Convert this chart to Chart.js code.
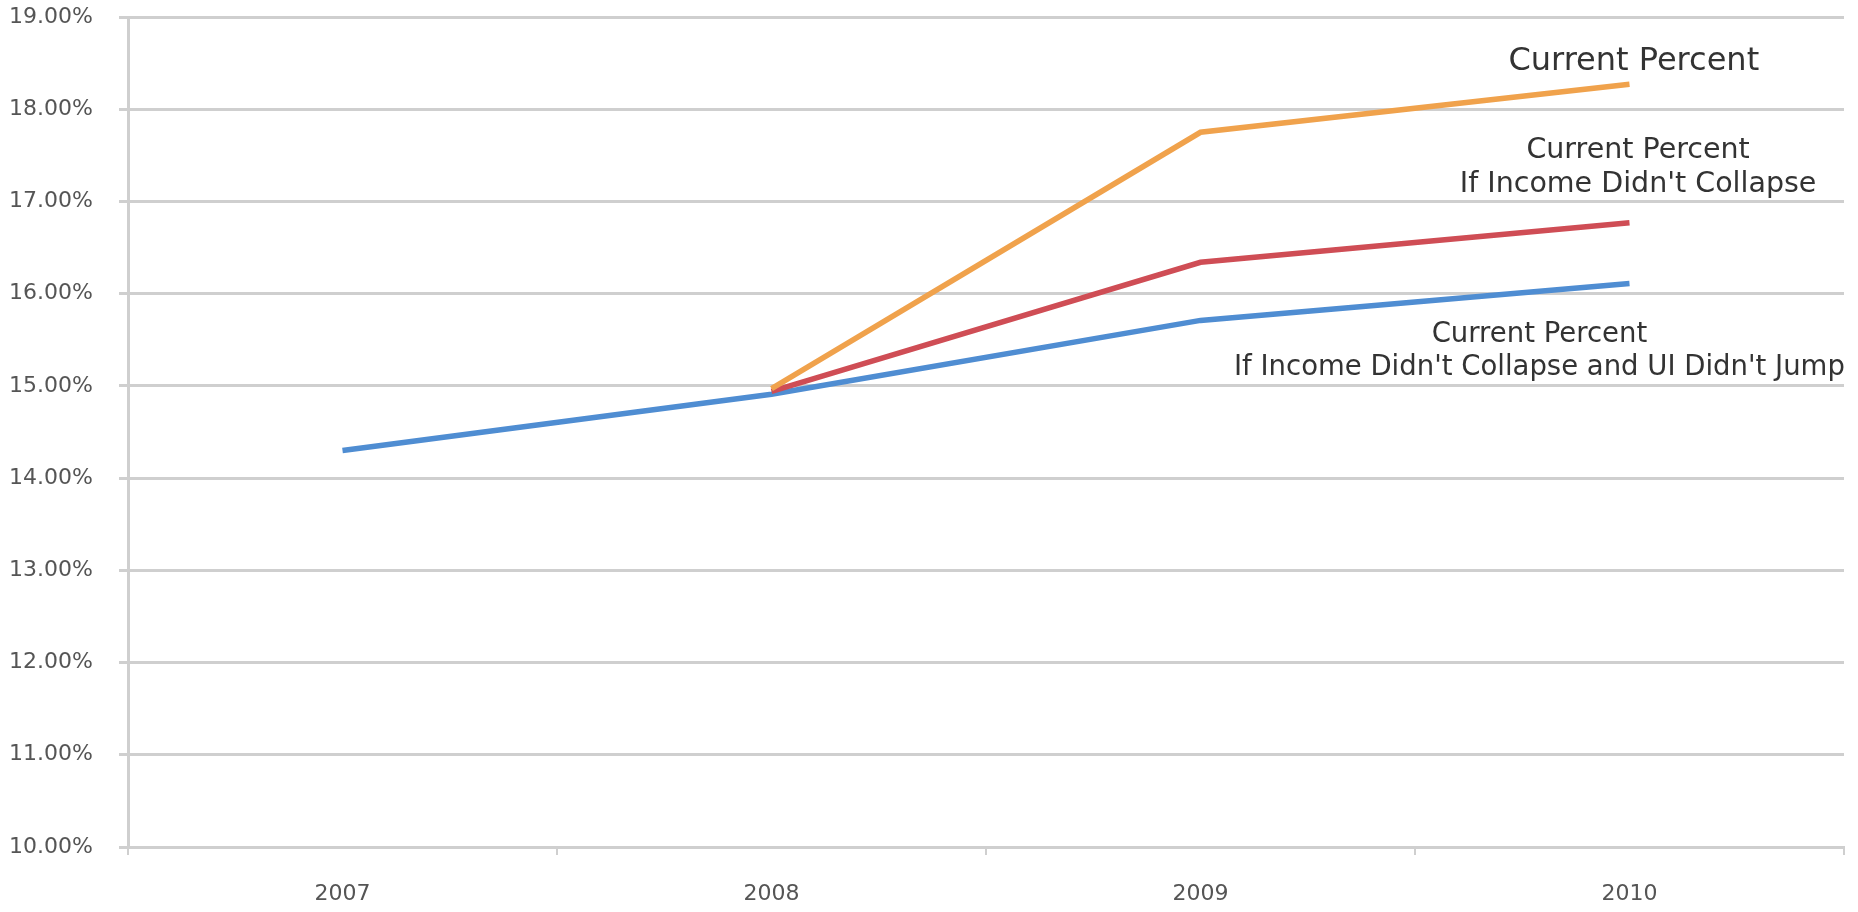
<!DOCTYPE html>
<html>
<head>
<meta charset="utf-8">
<script src="https://cdn.jsdelivr.net/npm/chart.js@4.4.1/dist/chart.umd.min.js"></script>
<style>
  html, body { margin: 0; padding: 0; background: #ffffff; }
  #wrap { width: 1858px; height: 912px; position: relative; }
</style>
</head>
<body>
<div id="wrap"><canvas id="chart" width="1858" height="912"></canvas></div>
<script>
// Share of income, by year, under three scenarios
const years = ['2007', '2008', '2009', '2010'];
const currentPercent = [null, 14.97, 17.75, 18.27];
const noIncomeCollapse = [null, 14.94, 16.34, 16.77];
const noCollapseNoUIJump = [14.30, 14.91, 15.71, 16.11];

const yTickMin = 10;
const yTickMax = 19;
const yTickStep = 1;

const seriesNames = [
  'Current Percent',
  'Current Percent If Income Didn\'t Collapse',
  'Current Percent If Income Didn\'t Collapse and UI Didn\'t Jump'
];

// Text placed beside the line ends
const annotations = [
  { lines: ['Current Percent'], x: 3.01, y: 18.52, size: 32 },
  { lines: ['Current Percent', 'If Income Didn\'t Collapse'], x: 3.02, y: 17.37, size: 28.5 },
  { lines: ['Current Percent', 'If Income Didn\'t Collapse and UI Didn\'t Jump'], x: 2.79, y: 15.37, size: 27.5 }
];

const gridColor = '#cfcfcf';
const fontFamily = '"DejaVu Sans", Verdana, sans-serif';

const lineLabels = {
  id: 'lineLabels',
  afterDatasetsDraw(chart) {
    const { ctx, scales } = chart;
    ctx.save();
    ctx.fillStyle = '#333333';
    ctx.textAlign = 'center';
    ctx.textBaseline = 'middle';
    annotations.forEach(a => {
      ctx.font = a.size + 'px ' + fontFamily;
      const cx = scales.x.getPixelForValue(a.x);
      const cy = scales.y.getPixelForValue(a.y);
      const lh = a.size * 1.2;
      const top = cy - (a.lines.length - 1) * lh / 2;
      a.lines.forEach((t, i) => ctx.fillText(t, cx, top + i * lh));
    });
    ctx.restore();
  }
};

new Chart(document.getElementById('chart'), {
  type: 'line',
  data: {
    labels: years,
    datasets: [
      { label: seriesNames[2], data: noCollapseNoUIJump, borderColor: '#4f8dd2', borderWidth: 5.5, pointRadius: 0, tension: 0, order: 3 },
      { label: seriesNames[1], data: noIncomeCollapse, borderColor: '#cf4d55', borderWidth: 5.5, pointRadius: 0, tension: 0, order: 2 },
      { label: seriesNames[0], data: currentPercent, borderColor: '#f0a24c', borderWidth: 5.5, pointRadius: 0, tension: 0, order: 1 }
    ]
  },
  options: {
    responsive: false,
    animation: false,
    events: [],
    layout: { padding: { left: 0, right: 14, top: 17, bottom: 0 } },
    plugins: { legend: { display: false }, tooltip: { enabled: false } },
    scales: {
      x: {
        offset: true,
        grid: { offset: true, drawOnChartArea: false, drawTicks: true, tickLength: 8, color: gridColor, lineWidth: 2 },
        border: { display: true, color: gridColor, width: 3 },
        ticks: { color: '#555555', padding: 26, font: { family: fontFamily, size: 22 }, maxRotation: 0 },
        afterFit(scale) { scale.height = 65; }
      },
      y: {
        min: yTickMin,
        max: yTickMax,
        ticks: {
          stepSize: yTickStep,
          color: '#555555',
          padding: 26,
          font: { family: fontFamily, size: 22 },
          callback: v => v.toFixed(2) + '%'
        },
        grid: { color: gridColor, lineWidth: 3, tickLength: 9, drawTicks: true },
        border: { display: true, color: gridColor, width: 3 },
        afterFit(scale) {
          scale.width = 128;
          scale.paddingTop = 0;
          scale.paddingBottom = 0;
        }
      }
    }
  },
  plugins: [lineLabels]
});
</script>
</body>
</html>
